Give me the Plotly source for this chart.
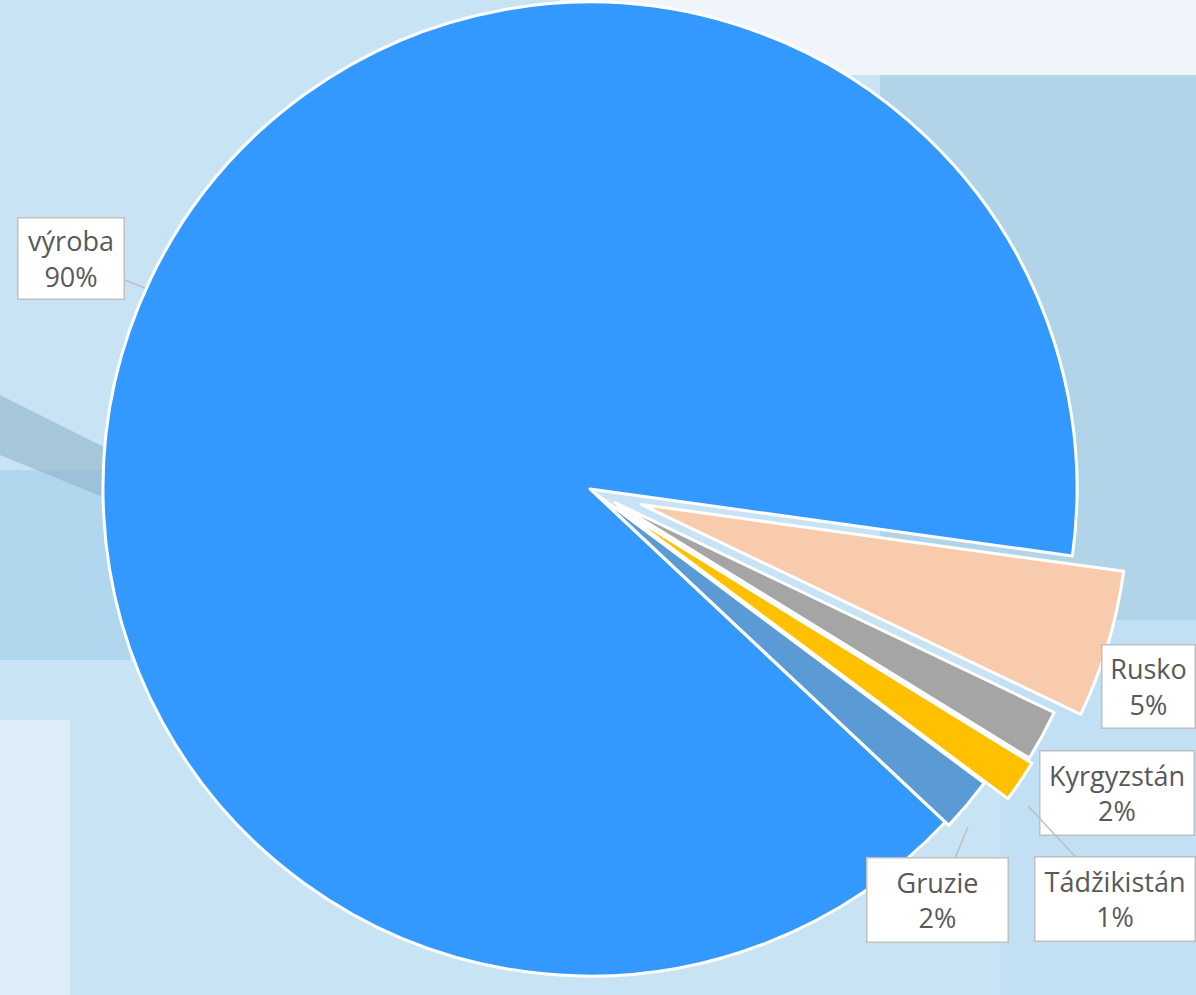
import math
import plotly.graph_objects as go

# ---- data ----
labels = ["Rusko", "Kyrgyzstán", "Tádžikistán", "Gruzie", "výroba"]
values = [4.9, 1.7, 1.4, 1.8, 90.2]
colors = ["#F8CBAD", "#A5A5A5", "#FFC000", "#5B9BD5", "#3399FF"]

# ---- style / layout constants ----
W, H = 1196, 995
R = 487            # pie radius in px
CX, CY = 590, 489  # pie centre in px
ROTATION = 97.9    # start angle of first slice (deg, clockwise from 12 o'clock)
pull = [0.11, 0.058, 0.068, 0.01, 0.0]  # explode fraction of radius per slice
TRANSPARENT = "rgba(0,0,0,0)"

total = sum(values)


def domain_for(cx, cy, r):
    x0, x1 = (cx - r) / W, (cx + r) / W
    y0, y1 = 1 - (cy + r) / H, 1 - (cy - r) / H
    clamp = lambda v: min(1.0, max(0.0, v))
    return dict(x=[clamp(x0), clamp(x1)], y=[clamp(y0), clamp(y1)])


fig = go.Figure()

# mid angle of every slice from the data
mid_angles = []
acc = 0.0
for v in values:
    mid_angles.append(ROTATION + 360.0 * (acc + v / 2) / total)
    acc += v

for i, lab in enumerate(labels):
    a = math.radians(mid_angles[i])
    d = pull[i] * R
    cx = CX + d * math.sin(a)
    cy = CY - d * math.cos(a)
    fills = [colors[j] if j == i else TRANSPARENT for j in range(len(labels))]
    lines = ["white" if j == i else TRANSPARENT for j in range(len(labels))]
    fig.add_trace(go.Pie(
        labels=labels, values=values, sort=False, direction="clockwise",
        rotation=ROTATION, domain=domain_for(cx, cy, R),
        marker=dict(colors=fills, line=dict(color=lines, width=3)),
        textinfo="none", hoverinfo="label+percent", showlegend=False,
        name=lab,
    ))

# ---- callout labels ----
# (tip px, box centre px, box size px) ; tip None -> no pointer
callouts = {
    "výroba":      ((145, 288), (71, 258.5), (108, 83)),
    "Rusko":       (None, (1148, 686), (95, 85)),
    "Kyrgyzstán":  (None, (1117, 793), (156, 86)),
    "Tádžikistán": ((1028, 806), (1115, 899), (162, 86)),
    "Gruzie":      ((968, 827), (937.5, 900), (143, 86)),
}
font = dict(family="Open Sans, Noto Sans, sans-serif", size=27, color="#595959")
for lab, v in zip(labels, values):
    tip, c, (bw, bh) = callouts[lab]
    text = f"{lab}<br>{round(v / total * 100):.0f}%"
    common = dict(text=text, font=font, bgcolor="white", bordercolor="#BFBFBF",
                  borderwidth=1.5, borderpad=0, width=bw - 3, height=bh - 3,
                  xref="paper", yref="paper", align="center", valign="middle")
    if tip is None:
        fig.add_annotation(x=c[0] / W, y=1 - c[1] / H, showarrow=False,
                           xanchor="center", yanchor="middle", **common)
    else:
        fig.add_annotation(x=tip[0] / W, y=1 - tip[1] / H, showarrow=True,
                           arrowhead=0, arrowwidth=1.5, arrowcolor="#BFBFBF",
                           ax=c[0] - tip[0], ay=c[1] - tip[1], **common)

# ---- background (soft approximation of the blurred photo) ----
bg_patches = [
    (560, 0, 1196, 75, "#F0F5FC", 1.0),
    (880, 75, 1196, 620, "#A6CDE4", 0.7),
    (1000, 620, 1196, 995, "#BCDDF1", 0.5),
    (0, 470, 130, 660, "#9ACBEA", 0.5),
    (0, 720, 70, 995, "#EAF4FC", 0.6),
]
for x0, y0, x1, y1, col, op in bg_patches:
    fig.add_shape(type="rect", xref="paper", yref="paper",
                  x0=x0 / W, x1=x1 / W, y0=1 - y1 / H, y1=1 - y0 / H,
                  fillcolor=col, opacity=op, line=dict(width=0), layer="below")

# dark diagonal streak on the left
streak = [(0, 395), (110, 450), (110, 500), (0, 455)]
path = "M " + " L ".join(f"{x / W:.4f},{1 - y / H:.4f}" for x, y in streak) + " Z"
fig.add_shape(type="path", xref="paper", yref="paper", path=path,
              fillcolor="#8FB3C8", opacity=0.6, line=dict(width=0), layer="below")

fig.update_layout(
    width=W, height=H,
    margin=dict(l=0, r=0, t=0, b=0),
    paper_bgcolor="#C8E3F4",
    plot_bgcolor="rgba(0,0,0,0)",
    showlegend=False,
)

fig.write_html("out.html",
               config={"displayModeBar": False},
               post_script="document.body.style.margin='0';"
                           "document.body.style.overflow='hidden';")
